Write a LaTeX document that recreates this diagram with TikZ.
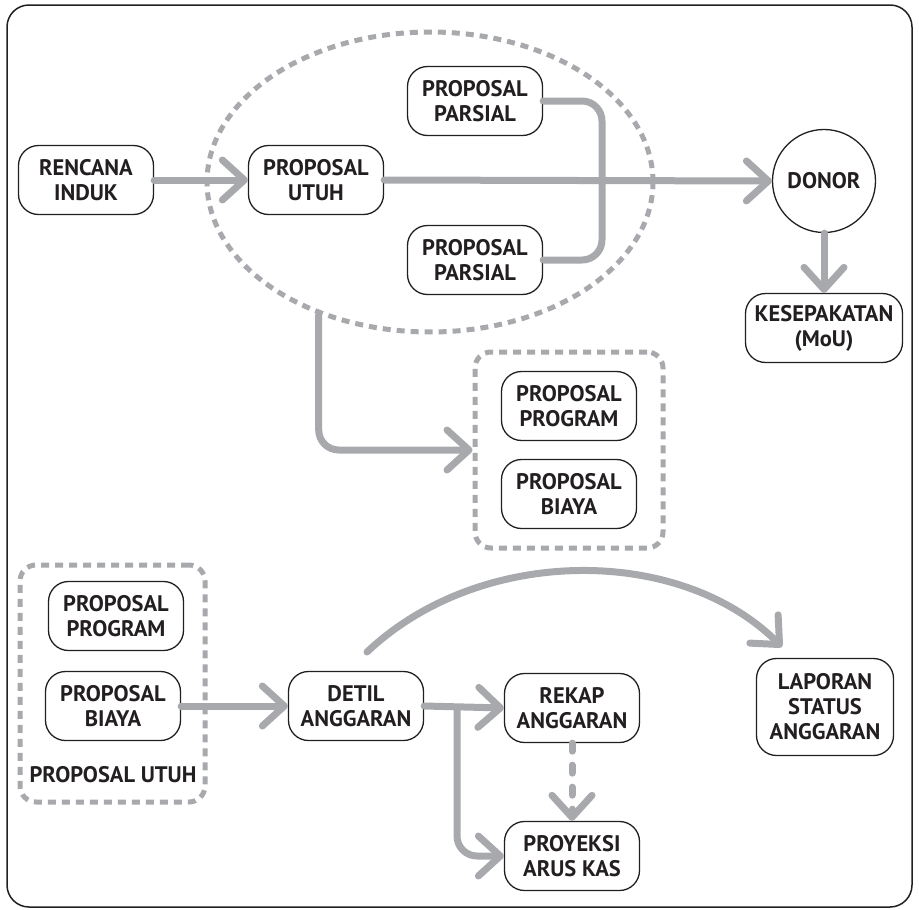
\documentclass[tikz,border=0pt]{standalone}
\usepackage{fontspec}
\setsansfont{PT Sans}
\usetikzlibrary{arrows.meta}
\usetikzlibrary{shapes.geometric}
\definecolor{flowgray}{RGB}{167,169,172}
\definecolor{inkblack}{RGB}{35,31,32}
\tikzset{
  labeltext/.style={text=inkblack, align=center, font=\sffamily\bfseries\fontsize{22.5pt}{25pt}\selectfont},
  box/.style={labeltext, draw=inkblack, line width=1.3pt, rounded corners=20pt,
    minimum width=135pt, minimum height=69pt, inner sep=2pt},
  flow/.style={draw=flowgray, line width=7pt, line cap=round, line join=round,
    -{Straight Barb[length=22pt, width=40pt, line cap=round, line join=round]}},
  link/.style={draw=flowgray, line width=7pt, line cap=round, rounded corners=20pt},
  group/.style={draw=flowgray, line width=5pt, dash pattern=on 8pt off 6pt, inner sep=0pt},
}

\begin{document}
\begin{tikzpicture}[x=1pt, y=-1pt]
	\useasboundingbox (0,0) rectangle (919,910);
	\draw[inkblack, line width=1.5pt, rounded corners=22pt] (7,5) rectangle (912,907);
	% upper part
	\node[group, ellipse, minimum width=446pt, minimum height=300pt] (utuhset) at (430,182) {};
	\node[box] (induk) at (86,180) {RENCANA\\INDUK};
	\node[box] (utuh) at (316,180) {PROPOSAL\\UTUH};
	\node[box] (parsA) at (475,101) {PROPOSAL\\PARSIAL};
	\node[box] (parsB) at (475,260) {PROPOSAL\\PARSIAL};
	\node[labeltext, draw=inkblack, line width=1.3pt, circle, minimum size=103pt, inner sep=0pt] (donor) at (824,181) {DONOR};
	\node[box, minimum width=157pt] (mou) at (824,328) {KESEPAKATAN\\(MoU)};
	\node[group, rounded corners=16pt, minimum width=188pt, minimum height=196pt] (pakA) at (569,450) {};
	\node[box] (progA) at (569,406) {PROPOSAL\\PROGRAM};
	\node[box] (biayaA) at (569,494) {PROPOSAL\\BIAYA};
	\coordinate (cross) at (602,180);
	\draw[link] (parsA.east) -| (cross) |- (parsB.east);
	\draw[flow] (induk.east) -- (utuh.west);
	\draw[flow] (utuh.east) -- (donor.west);
	\draw[flow] (donor.south) -- (mou.north);
	\draw[flow, rounded corners=20pt] (utuhset.230.8) |- (pakA.west);
	% lower part
	\node[group, rounded corners=16pt, minimum width=185pt, minimum height=237pt] (pakB) at (112.5,683.5) {};
	\node[box] (progB) at (116,616) {PROPOSAL\\PROGRAM};
	\node[box] (biayaB) at (113,706) {PROPOSAL\\BIAYA};
	\node[labeltext] (pakBname) at (113,775) {PROPOSAL UTUH};
	\node[box] (detil) at (356,706) {DETIL\\ANGGARAN};
	\node[box] (rekap) at (572,708) {REKAP\\ANGGARAN};
	\node[box] (proyeksi) at (572,856) {PROYEKSI\\ARUS KAS};
	\node[box, minimum width=137pt, minimum height=97pt] (laporan) at (825,707) {LAPORAN\\STATUS\\ANGGARAN};
	\coordinate (split) at (457,708);
	\coordinate (arcA) at (367,652);
	\coordinate (arcB) at (782,647);
	\draw[flow] (biayaB.east) -- (detil.west);
	\draw[flow] (detil.east) -- (rekap.west);
	\draw[flow, rounded corners=20pt] (split) |- (proyeksi.west);
	\draw[flow, dash pattern=on 8pt off 14pt] (rekap.south) -- (proyeksi.north);
	\draw[flow] (arcA) .. controls (480,545) and (680,545) .. (arcB);
\end{tikzpicture}
\end{document}
